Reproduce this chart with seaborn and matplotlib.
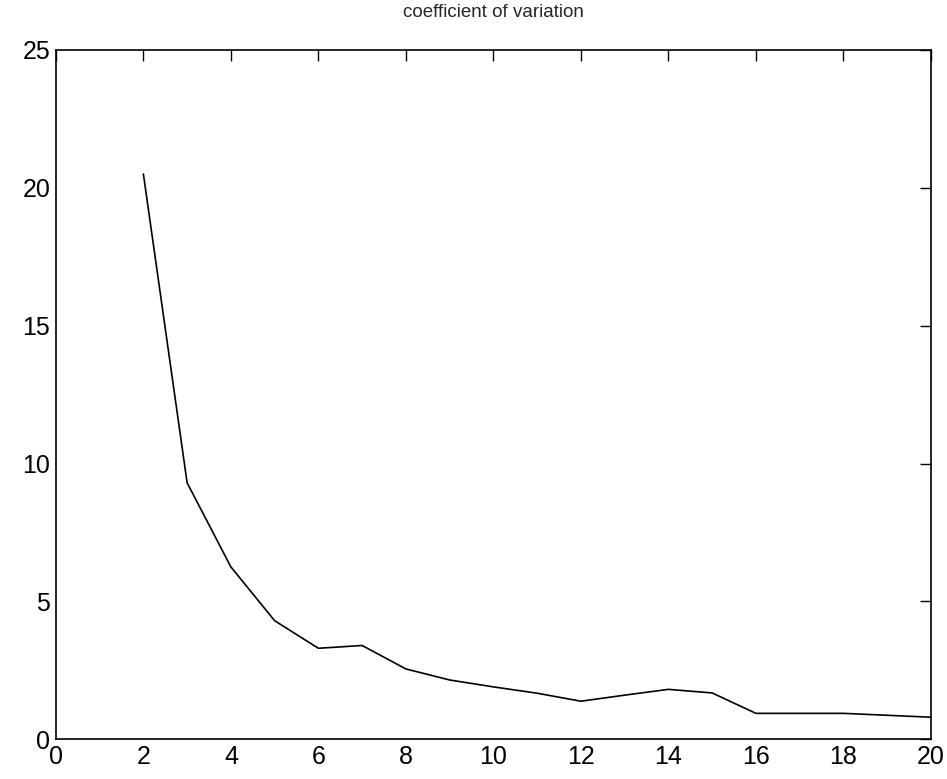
import matplotlib
matplotlib.use("Agg")
import matplotlib.pyplot as plt
import seaborn as sns
import pandas as pd

x_vals = [2, 3, 4, 5, 6, 7, 8, 9, 10, 11, 12, 13, 14, 15, 16, 17, 18, 19, 20]
cv_vals = [20.5, 9.3, 6.25, 4.3, 3.3, 3.4, 2.55, 2.15, 1.9, 1.67, 1.38, 1.6, 1.81, 1.68, 0.94, 0.94, 0.94, 0.87, 0.8]
x_ticks = [0, 2, 4, 6, 8, 10, 12, 14, 16, 18, 20]
y_ticks = [0, 5, 10, 15, 20, 25]
title = "coefficient of variation"

sns.set_style("white")
plt.rcParams['font.family'] = ['Liberation Sans Narrow', 'Liberation Sans', 'DejaVu Sans']

df = pd.DataFrame({"x": x_vals, "cv": cv_vals})

fig = plt.figure(figsize=(9.47, 7.79), dpi=100)
ax = fig.add_axes([0.059, 0.051, 0.924, 0.885])
sns.lineplot(data=df, x="x", y="cv", ax=ax, color="black", linewidth=1.2)

ax.set_xlim(0, 20)
ax.set_ylim(0, 25)
ax.set_xticks(x_ticks)
ax.set_yticks(y_ticks)
ax.set_xlabel("")
ax.set_ylabel("")
ax.set_title(title, fontsize=13.5, pad=24)
ax.tick_params(direction="in", length=8, width=1, top=True, right=True,
               labelsize=18, colors="black", pad=4)
for s in ax.spines.values():
    s.set_visible(True)
    s.set_color("black")
    s.set_linewidth(1.2)

fig.savefig("out.png", dpi=100)
